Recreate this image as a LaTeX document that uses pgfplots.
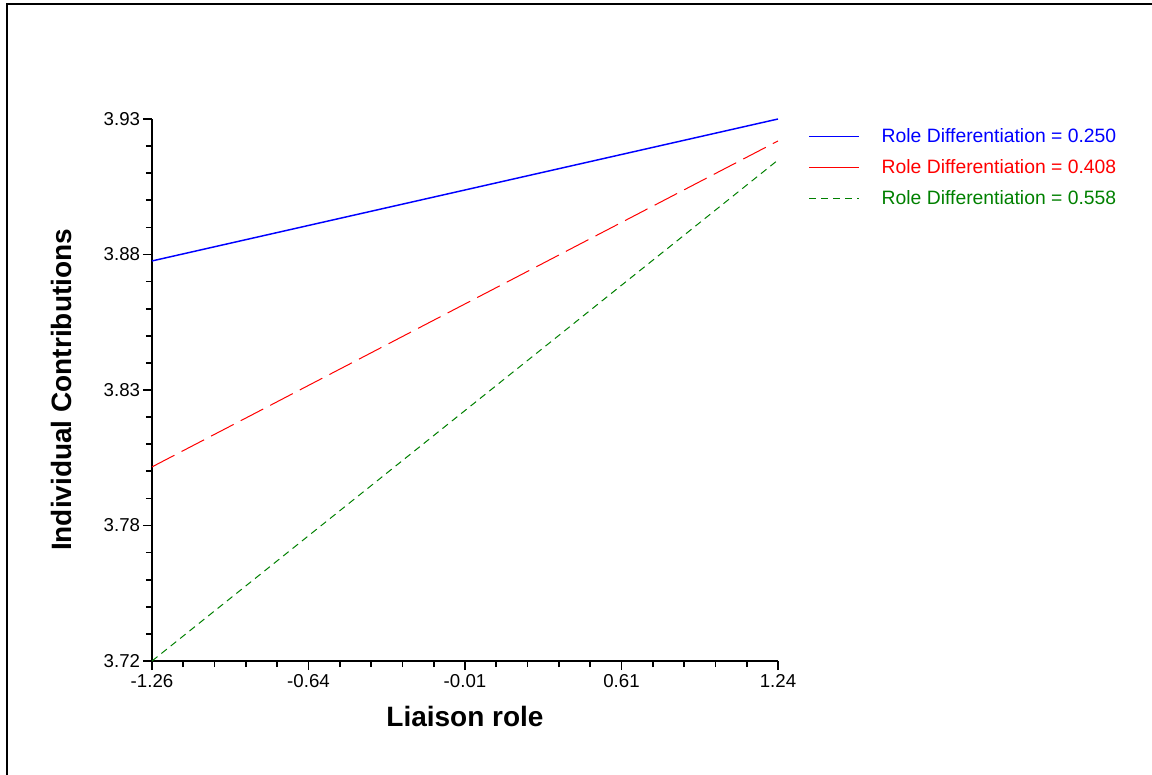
\documentclass[border=0pt]{standalone}
\usepackage{pgfplots}
\pgfplotsset{compat=1.18}
\usepackage{fontspec}
\setmainfont{Liberation Sans}
\definecolor{lblue}{RGB}{0,0,255}
\definecolor{lred}{RGB}{255,0,0}
\definecolor{lgreen}{RGB}{0,128,0}
\begin{document}
\begin{tikzpicture}
\useasboundingbox (-114pt,-84.75pt) rectangle (750pt,495.75pt);
\draw[line width=1.5pt] (-108.4pt,-90pt) -- (-108.4pt,492.75pt) -- (760pt,492.75pt);
\begin{axis}[
  scale only axis,
  width=469.5pt, height=406.5pt,
  xmin=-1.26, xmax=1.24,
  ymin=3.7225, ymax=3.9325,
  axis x line*=bottom, axis y line*=left,
  axis line style={-, line width=1.5pt},
  xtick={-1.26,-0.635,-0.01,0.615,1.24},
  xticklabels={{-1.26},{-0.64},{-0.01},{0.61},{1.24}},
  ytick={3.7225,3.775,3.8275,3.88,3.9325},
  yticklabels={{3.72},{3.78},{3.83},{3.88},{3.93}},
  minor x tick num=4, minor y tick num=4,
  tick align=outside,
  major tick length=6.75pt, minor tick length=4.5pt,
  every tick/.style={black, line width=1.3pt},
  tick label style={font=\fontsize{14}{16}\selectfont},
  xticklabel style={inner sep=3.5pt},
  yticklabel style={inner sep=2pt},
  xlabel={Liaison role},
  ylabel={Individual Contributions},
  label style={font=\fontsize{21}{24}\selectfont\bfseries},
  xlabel style={at={(axis description cs:0.5,-0.1015)}, anchor=center},
  ylabel style={at={(axis description cs:-0.1438,0.5)}, anchor=center},
  legend style={draw=none, fill=none, at={(axis description cs:1,1)}, anchor=north west,
    xshift=22.5pt, yshift=-6.75pt, inner sep=0pt, row sep=11.2pt, column sep=16.5pt,
    font=\fontsize{14.5}{16}\selectfont,
    nodes={inner sep=0pt, anchor=west}},
  legend image code/.code={\draw[#1] (0pt,0pt) -- (37.5pt,0pt);},
  legend cell align=left,
]
\addplot[color=lblue, line width=1.1pt] coordinates {(-1.26,3.8775) (1.24,3.9325)};
\addlegendentry{\textcolor{lblue}{Role Differentiation = 0.250}}
\addplot[color=lred, line width=0.75pt, dash pattern=on 19pt off 6pt, forget plot] coordinates {(-1.26,3.7977) (1.24,3.9240)};
\addlegendimage{color=lred, line width=0.75pt, solid}
\addlegendentry{\textcolor{lred}{Role Differentiation = 0.408}}
\addplot[color=lgreen, line width=0.75pt, dash pattern=on 5.25pt off 3.75pt] coordinates {(-1.26,3.7225) (1.24,3.9166)};
\addlegendentry{\textcolor{lgreen}{Role Differentiation = 0.558}}
\end{axis}
\end{tikzpicture}
\end{document}
